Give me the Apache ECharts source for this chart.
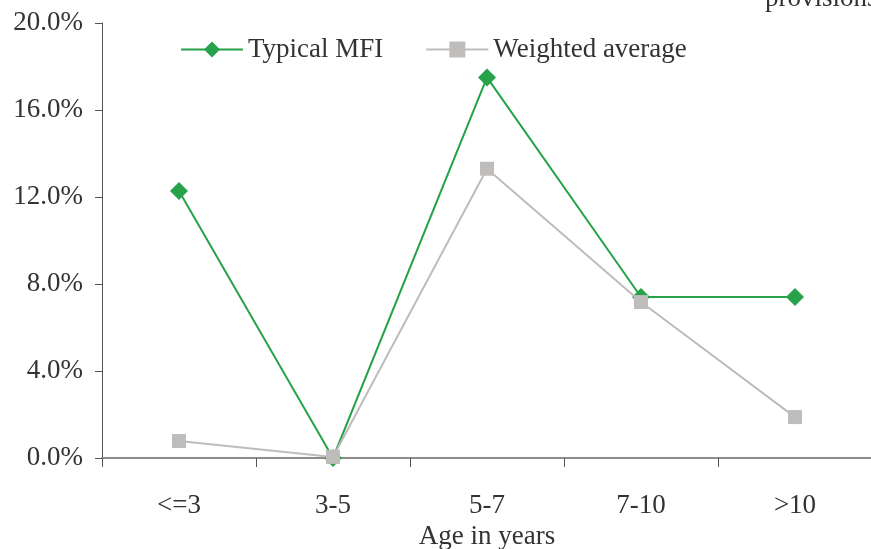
<!DOCTYPE html>
<html>
<head>
<meta charset="utf-8">
<script src="https://cdn.jsdelivr.net/npm/echarts@6/dist/echarts.min.js"></script>
<style>
  html, body { margin: 0; padding: 0; background: #fff; }
  #chart { width: 871px; height: 549px; }
</style>
</head>
<body>
<div id="chart"></div>
<script>
// Age buckets of institutions (years)
const ageGroups = ['<=3', '3-5', '5-7', '7-10', '>10'];
// Share (%) per age bucket
const typicalMfi = [12.28, 0.0, 17.5, 7.4, 7.4];
const weightedAverage = [0.78, 0.05, 13.3, 7.17, 1.88];
const yTicks = { min: 0, max: 20, step: 4 };

const FONT = '"Liberation Serif", "DejaVu Serif", serif';
const GREEN = '#27a24a';
const GREY = '#bfbcbc';

const chart = echarts.init(document.getElementById('chart'), null, { renderer: 'canvas' });

chart.setOption({
  animation: false,
  backgroundColor: '#fff',
  textStyle: { fontFamily: FONT, color: '#333' },
  grid: { left: 102, right: -1, top: 23, bottom: 91, containLabel: false, outerBoundsMode: 'none' },
  legend: {
    top: 31,
    left: 175,
    itemGap: 42,
    itemWidth: 62,
    itemHeight: 20,
    textStyle: { fontFamily: FONT, fontSize: 27, color: '#333' },
    data: ['Typical MFI', 'Weighted average']
  },
  graphic: [{
    type: 'text',
    left: 765,
    top: -15,
    style: { text: 'provisions', font: '27px ' + FONT, fill: '#333' }
  }],
  xAxis: {
    type: 'category',
    data: ageGroups,
    boundaryGap: true,
    name: 'Age in years',
    nameLocation: 'middle',
    nameGap: 61,
    nameTextStyle: { fontFamily: FONT, fontSize: 27, color: '#333' },
    axisLine: { lineStyle: { color: '#8c8c8c', width: 2 } },
    axisTick: { show: true, alignWithLabel: false, length: 9, inside: false, lineStyle: { color: '#555', width: 1 } },
    axisLabel: { fontFamily: FONT, fontSize: 27, color: '#333', margin: 34 },
    splitLine: { show: false }
  },
  yAxis: {
    type: 'value',
    min: yTicks.min,
    max: yTicks.max,
    interval: yTicks.step,
    axisLine: { show: true, lineStyle: { color: '#555', width: 1 } },
    axisTick: { show: true, length: 7, lineStyle: { color: '#555' } },
    axisLabel: {
      fontFamily: FONT, fontSize: 27, color: '#333', margin: 19,
      formatter: v => v.toFixed(1) + '%'
    },
    splitLine: { show: false }
  },
  series: [
    {
      name: 'Typical MFI',
      type: 'line',
      data: typicalMfi,
      symbol: 'diamond',
      symbolSize: 18,
      lineStyle: { color: GREEN, width: 2 },
      itemStyle: { color: GREEN },
      z: 3
    },
    {
      name: 'Weighted average',
      type: 'line',
      data: weightedAverage,
      symbol: 'rect',
      symbolSize: 14,
      lineStyle: { color: GREY, width: 2 },
      itemStyle: { color: GREY },
      z: 4
    }
  ]
});
</script>
</body>
</html>
